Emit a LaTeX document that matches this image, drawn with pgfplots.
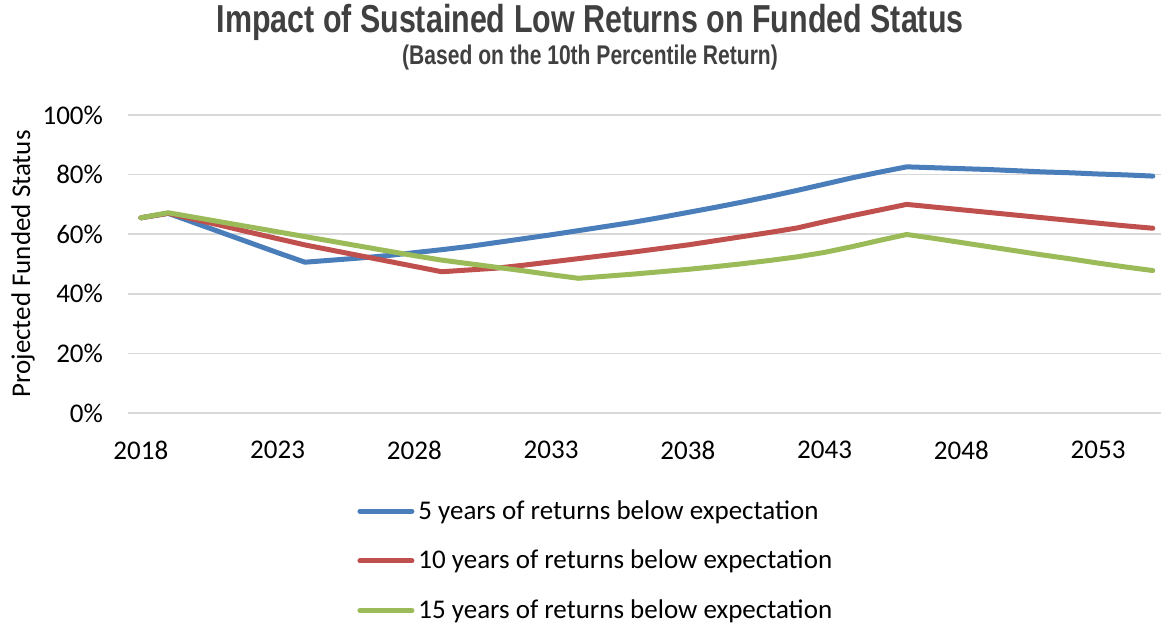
\documentclass[border=0pt]{standalone}
\usepackage{fontspec}
\setmainfont{Carlito}
\newfontfamily\titlefont[FakeStretch=0.78]{Liberation Sans}
\usepackage{pgfplots}
\pgfplotsset{compat=1.18}
\usetikzlibrary{calc}

\definecolor{sblue}{HTML}{4A7EBB}
\definecolor{sred}{HTML}{C0504D}
\definecolor{sgreen}{HTML}{9BBB59}
\definecolor{gridgray}{HTML}{D9D9D9}
\definecolor{titlegray}{HTML}{404040}

\pgfplotstableread{
year five ten fifteen
2018 65.5 65.5 65.5
2019 67.0 67.0 67.2
2020 63.7 64.9 65.6
2021 60.4 62.8 64.0
2022 57.1 60.6 62.4
2023 53.8 58.5 60.8
2024 50.6 56.4 59.2
2025 51.3 54.6 57.6
2026 52.0 52.8 56.0
2027 52.8 51.0 54.4
2028 53.8 49.2 52.8
2029 54.8 47.4 51.3
2030 55.9 48.0 50.1
2031 57.2 48.6 48.9
2032 58.5 49.6 47.7
2033 59.8 50.7 46.4
2034 61.2 51.8 45.2
2035 62.6 52.9 45.9
2036 64.0 54.0 46.6
2037 65.6 55.2 47.4
2038 67.3 56.4 48.2
2039 69.0 57.8 49.1
2040 70.8 59.2 50.1
2041 72.7 60.6 51.2
2042 74.7 62.1 52.4
2043 76.8 64.2 53.9
2044 78.9 66.2 55.8
2045 80.8 68.1 57.9
2046 82.6 70.0 59.9
2047 82.3 69.1 58.6
2048 82.0 68.2 57.2
2049 81.7 67.3 55.8
2050 81.3 66.4 54.4
2051 80.9 65.5 53.0
2052 80.6 64.6 51.7
2053 80.2 63.7 50.3
2054 79.9 62.8 49.0
2055 79.5 62.0 47.8
}\funded

\begin{document}
\begin{tikzpicture}
\begin{axis}[
  name=main,
  scale only axis,
  width=516.5pt, height=149pt,
  xmin=2017.53, xmax=2055.3,
  ymin=0, ymax=100,
  xtick={2018,2023,2028,2033,2038,2043,2048,2053},
  xticklabels={2018,2023,2028,2033,2038,2043,2048,2053},
  ytick={0,20,40,60,80,100},
  yticklabels={0\%,20\%,40\%,60\%,80\%,100\%},
  tick style={draw=none},
  axis line style={draw=none},
  ymajorgrids,
  grid style={gridgray, line width=0.8pt},
  ticklabel style={font=\fontsize{13.5}{16}\selectfont},
  xticklabel style={yshift=-10.5pt},
  yticklabel style={xshift=-9pt},
  ylabel={Projected Funded Status},
  ylabel style={font=\fontsize{13.5}{16}\selectfont, yshift=-3pt},
  legend style={at={(0.2159,-0.265)}, anchor=north west, draw=none,
    font=\fontsize{13.5}{16}\selectfont, row sep=10pt,
    /tikz/every even column/.append style={column sep=0pt}},
  legend cell align=left,
  legend image code/.code={\draw[#1, line width=2.5pt, line cap=round] (0pt,0pt) -- (26pt,0pt);},
  clip=false,
]
\addplot[sblue, line width=2.5pt, line join=round, line cap=round] table[x=year, y=five] {\funded};
\addlegendentry{5 years of returns below expectation}
\addplot[sred, line width=2.5pt, line join=round, line cap=round] table[x=year, y=ten] {\funded};
\addlegendentry{10 years of returns below expectation}
\addplot[sgreen, line width=2.5pt, line join=round, line cap=round] table[x=year, y=fifteen] {\funded};
\addlegendentry{15 years of returns below expectation}
\node[titlegray, font=\titlefont\fontsize{19.5}{22}\selectfont\bfseries] at (axis description cs:0.4473,1.309) {Impact of Sustained Low Returns on Funded Status};
\node[titlegray, font=\titlefont\fontsize{13.5}{15}\selectfont\bfseries] at (axis description cs:0.4473,1.193) {(Based on the 10th Percentile Return)};
\end{axis}
\pgfresetboundingbox
\path[use as bounding box] ($(main.south west)+(-64pt,-106pt)$) rectangle ($(main.north east)+(0pt,57.5pt)$);
\end{tikzpicture}
\end{document}
